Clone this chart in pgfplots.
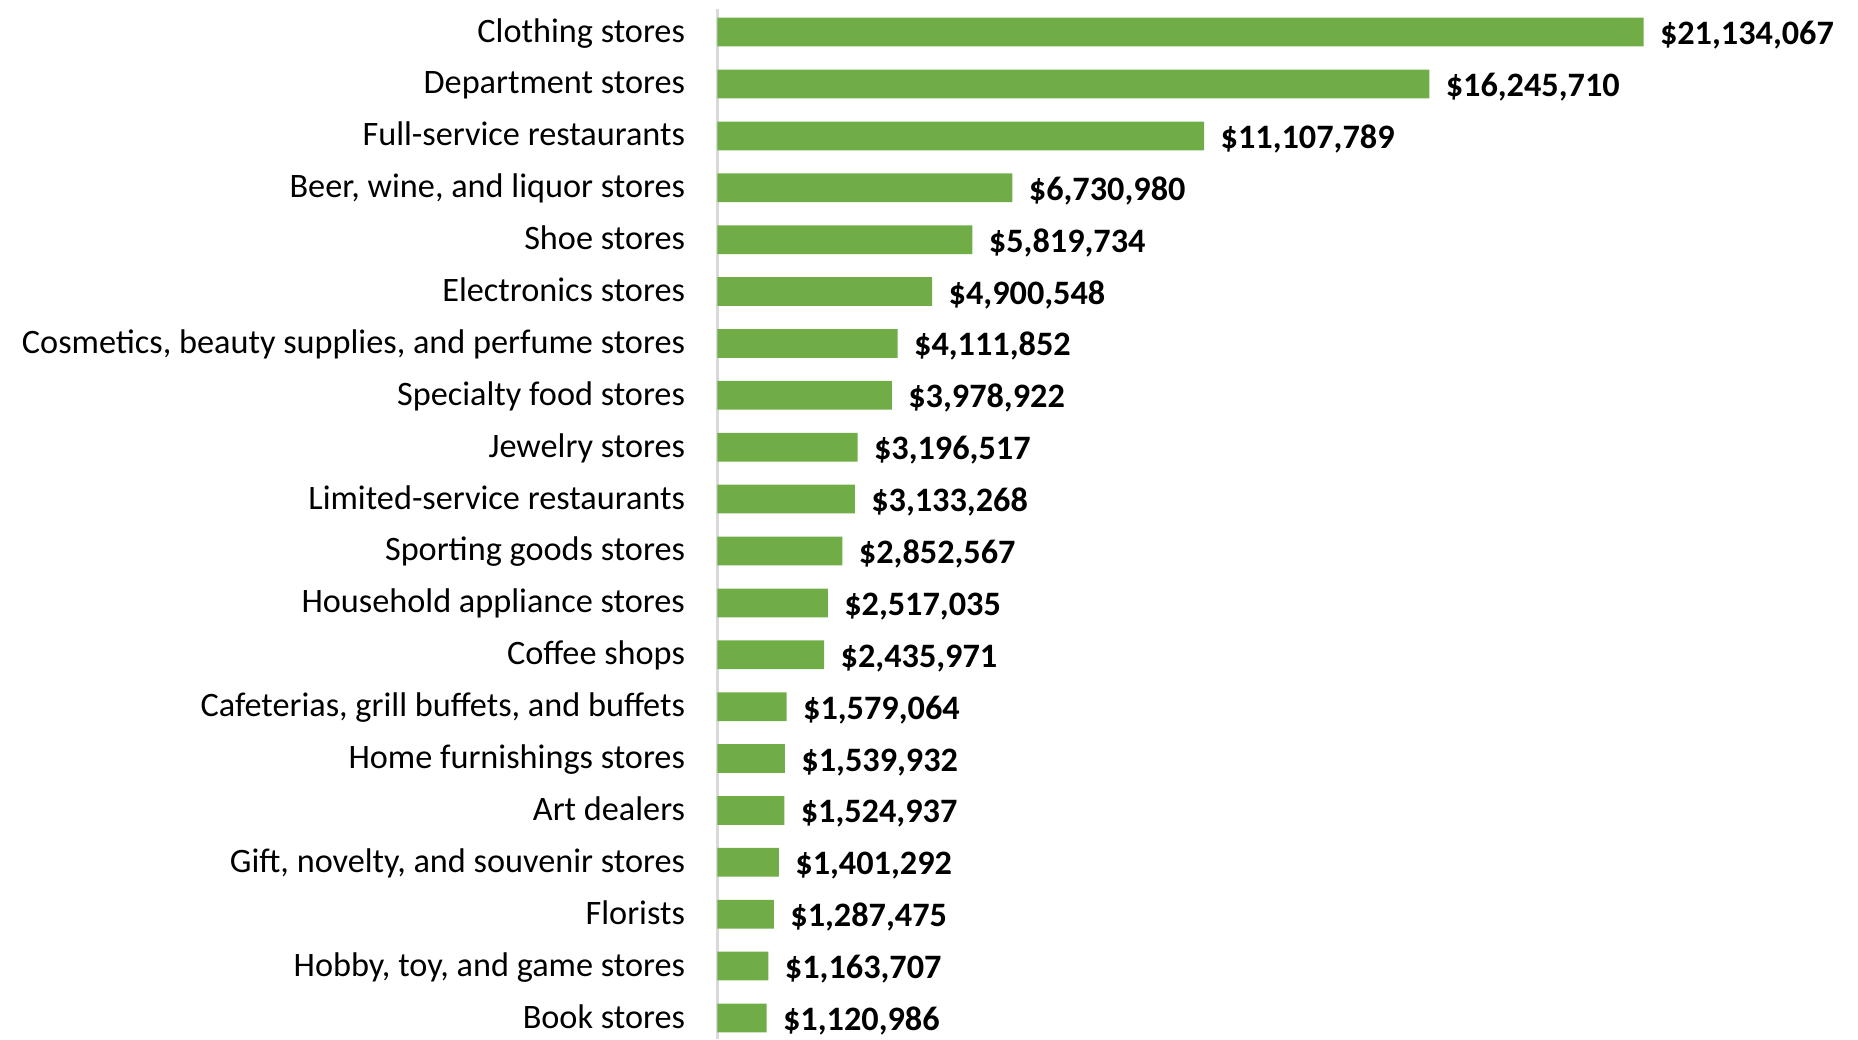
\documentclass[border=0pt]{standalone}
\usepackage{pgfplots}
\pgfplotsset{compat=1.18}
\usepackage{fontspec}
\setmainfont{Carlito}
\definecolor{bargreen}{HTML}{70AD47}
\definecolor{axisgrey}{HTML}{D9D9D9}

\begin{document}
\begin{tikzpicture}
	\useasboundingbox (-287pt,0pt) rectangle (456.2pt,415.6pt);
	\begin{axis}[
		at={(0pt,0pt)}, anchor=south west,
		scale only axis,
		width=456.2pt, height=412pt,
		xbar,
		bar width=11.5pt,
		xmin=0, xmax=26029700,
		ymin=0.555, ymax=20.405,
		y dir=reverse,
		axis x line=none,
		axis y line*=left,
		y axis line style={draw=axisgrey, line width=0.9pt},
		major tick length=0pt,
		ytick={1,...,20},
		yticklabels={
			Clothing stores,
			Department stores,
			Full-service restaurants,
			{Beer, wine, and liquor stores},
			Shoe stores,
			Electronics stores,
			{Cosmetics, beauty supplies, and perfume stores},
			Specialty food stores,
			Jewelry stores,
			Limited-service restaurants,
			Sporting goods stores,
			Household appliance stores,
			Coffee shops,
			{Cafeterias, grill buffets, and buffets},
			Home furnishings stores,
			Art dealers,
			{Gift, novelty, and souvenir stores},
			Florists,
			{Hobby, toy, and game stores},
			Book stores},
		yticklabel style={font=\fontsize{13.7}{16}\selectfont, inner sep=0pt, anchor=east,
			text height=0.72em, text depth=0.2em, xshift=-12.8pt, yshift=-1.4pt},
		nodes near coords,
		point meta=explicit symbolic,
		every node near coord/.append style={font=\fontsize{13.7}{16}\selectfont\bfseries, anchor=west,
			inner sep=0pt, text height=0.72em, text depth=0.2em, xshift=6.4pt, yshift=-2.4pt, text=black},
		clip=false,
	]
	\addplot[fill=bargreen, draw=none] coordinates {
		(21134067,1) [\$21,134,067]
		(16245710,2) [\$16,245,710]
		(11107789,3) [\$11,107,789]
		(6730980,4) [\$6,730,980]
		(5819734,5) [\$5,819,734]
		(4900548,6) [\$4,900,548]
		(4111852,7) [\$4,111,852]
		(3978922,8) [\$3,978,922]
		(3196517,9) [\$3,196,517]
		(3133268,10) [\$3,133,268]
		(2852567,11) [\$2,852,567]
		(2517035,12) [\$2,517,035]
		(2435971,13) [\$2,435,971]
		(1579064,14) [\$1,579,064]
		(1539932,15) [\$1,539,932]
		(1524937,16) [\$1,524,937]
		(1401292,17) [\$1,401,292]
		(1287475,18) [\$1,287,475]
		(1163707,19) [\$1,163,707]
		(1120986,20) [\$1,120,986]
	};
	\end{axis}
\end{tikzpicture}
\end{document}
